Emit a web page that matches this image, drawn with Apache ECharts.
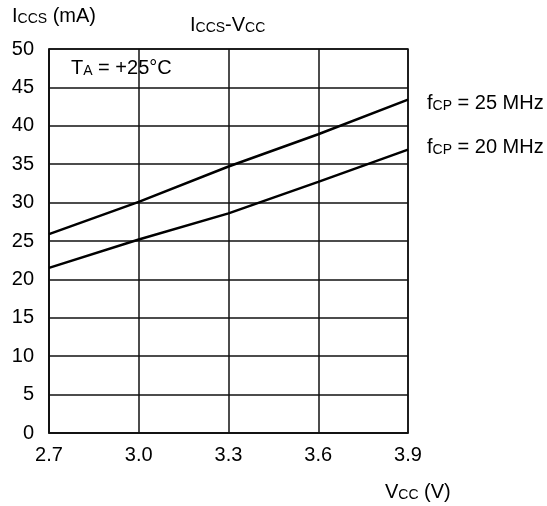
<!DOCTYPE html>
<html>
<head>
<meta charset="utf-8">
<script src="https://cdn.jsdelivr.net/npm/echarts@6/dist/echarts.min.js"></script>
<style>
  html, body { margin: 0; padding: 0; background: #fff; }
  #chart { width: 547px; height: 506px; }
</style>
</head>
<body>
<div id="chart"></div>
<script>
// supply voltage (V)
const vcc = [2.7, 3.0, 3.3, 3.6, 3.9];
// Iccs (mA)
const f25 = [25.9, 30.1, 34.7, 38.9, 43.4];
const f20 = [21.5, 25.2, 28.6, 32.7, 36.9];
const seriesNames = ["25", "20"];

const font = "'Liberation Sans', Arial, sans-serif";
const chart = echarts.init(document.getElementById("chart"));

const big = { fontFamily: font, fontSize: 20, color: "#000", lineHeight: 22, verticalAlign: "bottom" };
const small = { fontFamily: font, fontSize: 14, color: "#000", lineHeight: 22, verticalAlign: "bottom" };

// text with small-caps style subscripts: [["b", "I"], ["s", "CCS"]]
function txt(x, y, parts) {
  return {
    type: "text",
    x: x,
    y: y,
    style: {
      text: parts.map(p => `{${p[0]}|${p[1]}}`).join(""),
      rich: { b: big, s: small },
      fontFamily: font,
      verticalAlign: "middle"
    }
  };
}

const option = {
  animation: false,
  grid: {
    left: 49, right: 139, top: 49, bottom: 73,
    show: true, borderColor: "#111", borderWidth: 1.5
  },
  xAxis: {
    type: "value",
    min: 2.7, max: 3.9, interval: 0.3,
    axisLine: { show: true, lineStyle: { color: "#111", width: 1.5 } },
    axisTick: { show: false },
    splitLine: { lineStyle: { color: "#111", width: 1.5 } },
    axisLabel: {
      margin: 12, color: "#000", fontSize: 20, fontFamily: font,
      formatter: v => v.toFixed(1)
    }
  },
  yAxis: {
    type: "value",
    min: 0, max: 50, interval: 5,
    axisLine: { show: true, lineStyle: { color: "#111", width: 1.5 } },
    axisTick: { show: false },
    splitLine: { lineStyle: { color: "#111", width: 1.5 } },
    axisLabel: {
      margin: 15, color: "#000", fontSize: 20, fontFamily: font
    }
  },
  series: [f25, f20].map((d, i) => ({
    name: seriesNames[i],
    type: "line",
    data: vcc.map((v, k) => [v, d[k]]),
    showSymbol: false,
    lineStyle: { color: "#000", width: 2.5 },
    silent: true
  })),
  graphic: [
    txt(12, 15, [["b", "I"], ["s", "CCS"], ["b", " (mA)"]]),
    txt(190, 24, [["b", "I"], ["s", "CCS"], ["b", "-V"], ["s", "CC"]]),
    txt(71, 67, [["b", "T"], ["s", "A"], ["b", " = +25°C"]]),
    txt(427, 102, [["b", "f"], ["s", "CP"], ["b", " = 25 MHz"]]),
    txt(427, 146, [["b", "f"], ["s", "CP"], ["b", " = 20 MHz"]]),
    txt(385, 491, [["b", "V"], ["s", "CC"], ["b", " (V)"]])
  ]
};
chart.setOption(option);
</script>
</body>
</html>
